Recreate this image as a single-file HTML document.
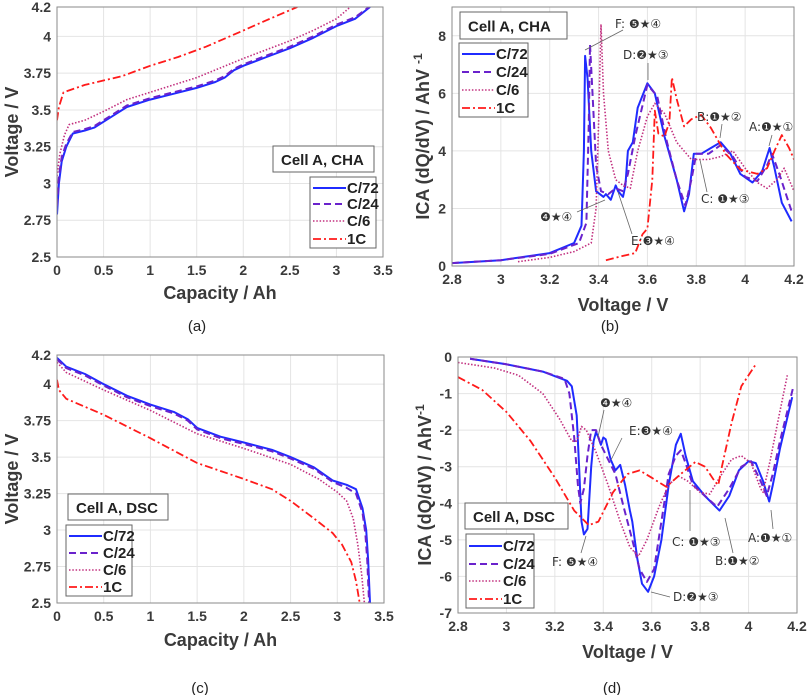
<!DOCTYPE html>
<html><head><meta charset="utf-8"><style>
body{margin:0;background:#fff;}
svg{display:block;font-family:"Liberation Sans",sans-serif;}
.tk{font-size:14px;font-weight:bold;fill:#3a3a3a;}
.at{font-size:18px;font-weight:bold;fill:#3a3a3a;}
.lg{font-size:15px;font-weight:bold;fill:#222;}
.an{font-size:12px;fill:#333;font-family:"DejaVu Sans","Liberation Sans",sans-serif;}
.cap{font-size:15px;fill:#222;}
</style></head><body>
<svg id="fig" width="810" height="695" viewBox="0 0 810 695">
<rect width="810" height="695" fill="#fff"/>
</svg>
<script>
const aC72 = [[0,2.79],[0.02,3.0],[0.05,3.15],[0.1,3.25],[0.17,3.34],[0.3,3.36],[0.4,3.38],[0.55,3.44],[0.75,3.52],[1,3.57],[1.25,3.61],[1.5,3.65],[1.7,3.69],[1.8,3.72],[1.9,3.77],[2,3.80],[2.25,3.86],[2.5,3.92],[2.75,3.99],[3,4.07],[3.2,4.12],[3.36,4.2]];
const aC24 = [[0,2.85],[0.02,3.05],[0.05,3.18],[0.1,3.27],[0.17,3.35],[0.3,3.37],[0.4,3.39],[0.55,3.45],[0.75,3.53],[1,3.58],[1.25,3.62],[1.5,3.66],[1.7,3.70],[1.8,3.73],[1.9,3.78],[2,3.81],[2.25,3.87],[2.5,3.93],[2.75,4.0],[3,4.08],[3.2,4.13],[3.35,4.2]];
const aC6 = [[0,3.05],[0.03,3.2],[0.08,3.33],[0.13,3.40],[0.3,3.43],[0.5,3.49],[0.75,3.57],[1,3.62],[1.5,3.72],[2,3.85],[2.5,3.97],[2.75,4.04],[3,4.12],[3.15,4.2]];
const a1C = [[0,3.43],[0.02,3.52],[0.07,3.62],[0.3,3.67],[0.7,3.73],[1,3.80],[1.3,3.86],[1.6,3.93],[2,4.04],[2.25,4.11],[2.58,4.2]];
const cC72 = [[0,4.18],[0.1,4.12],[0.3,4.07],[0.5,4.0],[0.75,3.92],[1,3.86],[1.25,3.81],[1.4,3.76],[1.5,3.70],[1.75,3.64],[2,3.60],[2.3,3.55],[2.5,3.50],[2.75,3.43],[2.95,3.34],[3.1,3.31],[3.2,3.28],[3.27,3.15],[3.31,3.0],[3.33,2.8],[3.35,2.5]];
const cC24 = [[0,4.17],[0.1,4.11],[0.3,4.06],[0.5,3.99],[0.75,3.91],[1,3.85],[1.25,3.80],[1.4,3.75],[1.5,3.69],[1.75,3.63],[2,3.59],[2.3,3.54],[2.5,3.49],[2.75,3.42],[2.95,3.33],[3.1,3.29],[3.2,3.25],[3.27,3.12],[3.3,2.98],[3.32,2.8],[3.34,2.5]];
const cC6 = [[0,4.15],[0.1,4.08],[0.5,3.96],[1,3.82],[1.5,3.66],[2,3.56],[2.5,3.45],[2.8,3.35],[3,3.26],[3.1,3.20],[3.17,3.08],[3.22,2.9],[3.26,2.7],[3.29,2.5]];
const c1C = [[0,4.03],[0.02,3.96],[0.1,3.90],[0.5,3.79],[1,3.63],[1.5,3.46],[2,3.35],[2.3,3.28],[2.5,3.20],[2.75,3.08],[2.95,2.98],[3.05,2.90],[3.15,2.78],[3.2,2.65],[3.24,2.5]];
const bC72 = [[2.8,0.1],[3.0,0.2],[3.2,0.45],[3.3,0.8],[3.33,1.4],[3.34,4],[3.345,7.3],[3.355,6.5],[3.37,4],[3.39,2.6],[3.42,2.4],[3.43,2.5],[3.45,2.3],[3.47,2.8],[3.48,2.6],[3.5,2.4],[3.51,2.8],[3.52,4.0],[3.54,4.3],[3.56,5.5],[3.6,6.35],[3.63,6.0],[3.67,4.5],[3.72,3.0],[3.75,1.9],[3.77,2.5],[3.79,3.9],[3.82,3.9],[3.86,4.1],[3.9,4.3],[3.94,3.9],[3.98,3.2],[4.03,2.9],[4.07,3.3],[4.1,4.1],[4.12,3.4],[4.15,2.2],[4.19,1.55]];
const bC24 = [[2.8,0.1],[3.0,0.2],[3.2,0.42],[3.32,0.8],[3.35,1.5],[3.36,5],[3.365,7.7],[3.375,6],[3.39,3.5],[3.41,2.6],[3.44,2.5],[3.47,2.7],[3.5,2.6],[3.52,3.2],[3.55,4.5],[3.6,6.3],[3.64,5.9],[3.68,4.3],[3.72,3],[3.755,2.1],[3.78,3],[3.8,3.9],[3.85,3.9],[3.9,4.2],[3.95,3.8],[4.0,3.1],[4.05,2.95],[4.09,3.5],[4.11,3.9],[4.14,3.2],[4.19,1.9]];
const bC6 = [[3.07,0.15],[3.2,0.3],[3.3,0.5],[3.37,0.8],[3.39,2],[3.40,5],[3.41,8.4],[3.42,6],[3.44,4],[3.47,3],[3.5,2.8],[3.53,2.7],[3.56,4],[3.6,5.2],[3.63,5.65],[3.67,5.3],[3.72,4.3],[3.78,3.7],[3.85,3.7],[3.9,3.8],[3.95,4.0],[4.0,3.4],[4.05,2.9],[4.09,2.7],[4.13,3.0],[4.16,3.4],[4.2,2.6]];
const b1C = [[3.43,0.2],[3.5,0.35],[3.55,0.45],[3.58,1.1],[3.6,1.3],[3.62,3],[3.63,5.4],[3.645,4.6],[3.67,4.5],[3.69,5],[3.70,6.55],[3.72,5.8],[3.75,4.85],[3.78,5.1],[3.82,5.25],[3.86,4.8],[3.92,3.9],[3.98,3.35],[4.05,3.2],[4.09,3.4],[4.12,4],[4.15,4.55],[4.18,4.1],[4.2,3.7]];
const dC72 = [[2.85,-0.05],[3.0,-0.2],[3.15,-0.4],[3.25,-0.65],[3.27,-0.8],[3.29,-1.6],[3.30,-3],[3.31,-4.5],[3.32,-4.85],[3.335,-4.7],[3.35,-3],[3.36,-2.3],[3.37,-2.05],[3.38,-2.2],[3.39,-2.4],[3.40,-2.2],[3.41,-2.25],[3.43,-2.8],[3.45,-3.1],[3.47,-2.95],[3.49,-3.5],[3.51,-4.2],[3.52,-4.5],[3.54,-5.5],[3.56,-6.2],[3.585,-6.42],[3.61,-6.0],[3.64,-5],[3.67,-3.5],[3.70,-2.4],[3.72,-2.1],[3.74,-2.7],[3.77,-3.4],[3.82,-3.8],[3.88,-4.2],[3.92,-3.8],[3.96,-3.1],[4.0,-2.85],[4.03,-2.9],[4.06,-3.4],[4.085,-3.95],[4.1,-3.5],[4.13,-2.5],[4.18,-1.1]];
const dC24 = [[2.85,-0.05],[3.0,-0.2],[3.15,-0.4],[3.24,-0.6],[3.26,-1.0],[3.28,-2.2],[3.295,-3.5],[3.305,-4.0],[3.32,-3.6],[3.335,-2.7],[3.35,-2.0],[3.37,-2.0],[3.39,-2.4],[3.42,-2.8],[3.45,-3.2],[3.48,-4],[3.52,-5.0],[3.55,-5.8],[3.58,-6.15],[3.61,-5.8],[3.64,-4.5],[3.67,-3.2],[3.70,-2.7],[3.72,-2.55],[3.74,-2.9],[3.77,-3.5],[3.82,-3.8],[3.87,-4.1],[3.92,-3.6],[3.97,-3.0],[4.01,-2.85],[4.05,-3.4],[4.075,-3.8],[4.1,-3.2],[4.13,-2.3],[4.185,-0.8]];
const dC6 = [[2.8,-0.15],[2.95,-0.3],[3.05,-0.5],[3.15,-1.0],[3.22,-1.7],[3.27,-2.3],[3.29,-2.3],[3.31,-1.9],[3.33,-2.0],[3.37,-2.6],[3.42,-3.5],[3.47,-4.5],[3.51,-5.2],[3.545,-5.45],[3.58,-5.0],[3.63,-4.1],[3.67,-3.5],[3.71,-3.25],[3.75,-3.4],[3.8,-3.7],[3.84,-3.75],[3.88,-3.3],[3.93,-2.8],[3.97,-2.7],[4.01,-2.9],[4.05,-3.6],[4.06,-3.7],[4.09,-2.8],[4.12,-1.8],[4.16,-0.5]];
const d1C = [[2.8,-0.55],[2.9,-0.9],[3.0,-1.5],[3.1,-2.3],[3.2,-3.3],[3.28,-4.2],[3.34,-4.6],[3.38,-4.5],[3.44,-3.7],[3.5,-3.2],[3.55,-3.1],[3.6,-3.3],[3.66,-3.55],[3.72,-3.2],[3.78,-2.87],[3.82,-3.0],[3.86,-3.4],[3.875,-3.5],[3.89,-3.0],[3.93,-1.8],[3.97,-0.8],[4.03,-0.2]];
const capTicks = [0,0.5,1,1.5,2,2.5,3,3.5];
const voltTicks = [2.5,2.75,3,3.25,3.5,3.75,4,4.2];
const icaVTicks = [2.8,3,3.2,3.4,3.6,3.8,4,4.2];
const bYTicks = [0,2,4,6,8];
const dYTicks = [0,-1,-2,-3,-4,-5,-6,-7];
const seriesNames = ['C/72','C/24','C/6','1C'];

const NS='http://www.w3.org/2000/svg';
const svg=document.getElementById('fig');
function mk(tag,attrs,parent,text){const e=document.createElementNS(NS,tag);for(const k in attrs)e.setAttribute(k,attrs[k]);if(text!==undefined)e.textContent=text;(parent||svg).appendChild(e);return e;}
const styles=[
 {stroke:'#1f2bff',w:2,dash:''},
 {stroke:'#6a22cc',w:2,dash:'7,4'},
 {stroke:'#c2307f',w:1.6,dash:'1.5,1.8'},
 {stroke:'#ff1a1a',w:1.8,dash:'8,3,2,3'}];
function fmt(v){return String(v);}
function panel(id,r,xd,yd,xt,yt,series,titleBox,legBox,legY,xTitle,yTitle,yTitleX,xTitleY){
  const g=mk('g',{});
  
  
  const sx=v=>r.x0+(v-xd[0])/(xd[1]-xd[0])*(r.x1-r.x0);
  const sy=v=>r.y1-(v-yd[0])/(yd[1]-yd[0])*(r.y1-r.y0);
  xt.forEach(t=>{const x=sx(t);
    const l=mk('line',{x1:x,x2:x,y1:r.y0,y2:r.y1,stroke:'#e4e4e4','stroke-width':1},g);
    
    const tx=mk('text',{x:x,y:r.y1+18,'text-anchor':'middle',class:'tk'},g,fmt(t));
    });
  yt.forEach(t=>{const y=sy(t);
    const l=mk('line',{x1:r.x0,x2:r.x1,y1:y,y2:y,stroke:'#e4e4e4','stroke-width':1},g);
    
    const tx=mk('text',{x:r.x0-6,y:y+5,'text-anchor':'end',class:'tk'},g,fmt(t));
    });
  const clipId='clip-'+id;
  const cp=mk('clipPath',{id:clipId},g);mk('rect',{x:r.x0,y:r.y0,width:r.x1-r.x0,height:r.y1-r.y0},cp);
  series.forEach((s,i)=>{const st=styles[i];
    const p=mk('polyline',{points:s.map(d=>sx(d[0]).toFixed(1)+','+sy(d[1]).toFixed(1)).join(' '),fill:'none',stroke:st.stroke,'stroke-width':st.w,'stroke-dasharray':st.dash,'stroke-linejoin':'round','clip-path':'url(#'+clipId+')'},g);
    
    });
  const bx=mk('rect',{x:r.x0,y:r.y0,width:r.x1-r.x0,height:r.y1-r.y0,fill:'none',stroke:'#8a8a8a','stroke-width':1},g);
  
  const xtl=mk('text',{x:(r.x0+r.x1)/2,y:xTitleY,'text-anchor':'middle',class:'at'},g,xTitle);
  
  const ytl=mk('text',{x:0,y:0,'text-anchor':'middle',class:'at',transform:'translate('+yTitleX+','+(r.y0+r.y1)/2+') rotate(-90)'},g);
  
  if(typeof yTitle==='string'){ytl.textContent=yTitle;}else{ytl.textContent=yTitle.main;mk('tspan',{dy:-7,'font-size':12},ytl,yTitle.sup);}
  const tb=mk('rect',{x:titleBox[0],y:titleBox[1],width:titleBox[2]-titleBox[0],height:titleBox[3]-titleBox[1],fill:'#fff',stroke:'#666','stroke-width':1},g);
  
  const tt=mk('text',{x:titleBox[0]+8,y:(titleBox[1]+titleBox[3])/2+6,class:'lg','font-size':16},g,titleBox[4]);
  
  const lb=mk('rect',{x:legBox[0],y:legBox[1],width:legBox[2]-legBox[0],height:legBox[3]-legBox[1],fill:'#fff',stroke:'#666','stroke-width':1},g);
  
  seriesNames.forEach((n,i)=>{const st=styles[i];const y=legY[i];
    const l=mk('line',{x1:legBox[0]+3,x2:legBox[0]+36,y1:y,y2:y,stroke:st.stroke,'stroke-width':st.w,'stroke-dasharray':st.dash},g);
    
    const t=mk('text',{x:legBox[0]+37,y:y+5,class:'lg'},g,n);
    });
  return g;
}
panel('panel-a',{x0:57,x1:383,y0:7,y1:257},[0,3.5],[2.5,4.2],capTicks,voltTicks,[aC72,aC24,aC6,a1C],[273,146,374,172,'Cell A, CHA'],[310,177,376,248],[188,204,221,239],'Capacity / Ah','Voltage / V',18,299);
panel('panel-b',{x0:452,x1:794,y0:7,y1:266},[2.8,4.2],[0,9],icaVTicks,bYTicks,[bC72,bC24,bC6,b1C],[460,12,567,39,'Cell A, CHA'],[459,43,528,117],[54,72,90,108],'Voltage / V',{main:'ICA (dQ/dV) / AhV ',sup:'-1'},429,311);
panel('panel-c',{x0:57,x1:384,y0:355,y1:603},[0,3.5],[2.5,4.2],capTicks,voltTicks,[cC72,cC24,cC6,c1C],[68,494,168,520,'Cell A, DSC'],[66,525,132,596],[536,553,570,587],'Capacity / Ah','Voltage / V',18,646);
panel('panel-d',{x0:458,x1:797,y0:357,y1:613},[2.8,4.2],[-7,0],icaVTicks,dYTicks,[dC72,dC24,dC6,d1C],[465,503,568,529,'Cell A, DSC'],[466,534,534,608],[546,564,581,599],'Voltage / V',{main:'ICA (dQ/dV) / AhV',sup:'-1'},431,658);

const ann=[
 ['F: ❺★④',615,28,623,30,585,50],['D:❷★③',623,59,648,63,648,80],['B:❶★②',697,121,722,124,720,138],
 ['A:❶★①',749,131,772,135,769,146],['C: ❶★③',701,203,707,192,700,160],['❹★④',540,221,577,212,605,200],
 ['E:❸★④',631,245,632,234,618,192],
 ['❹★④',600,407,604,410,598,437],['E:❸★④',629,435,622,438,611,460],['C: ❶★③',672,546,690,531,690,490],
 ['A:❶★①',748,542,773,529,771,510],['B:❶★②',715,565,733,553,725,518],['F: ❺★④',552,566,581,553,586,536],
 ['D:❷★③',673,601,670,597,651,592]];
ann.forEach(a=>{
  const l=mk('line',{x1:a[3],y1:a[4],x2:a[5],y2:a[6],stroke:'#666','stroke-width':0.8});
  
  const t=mk('text',{x:a[1],y:a[2],class:'an'},svg,a[0]);
  });
[['(a)',197,331],['(b)',610,331],['(c)',200,693],['(d)',612,693]].forEach(c=>{
  const t=mk('text',{x:c[1],y:c[2],'text-anchor':'middle',class:'cap'},svg,c[0]);
  });
</script>
</body></html>
